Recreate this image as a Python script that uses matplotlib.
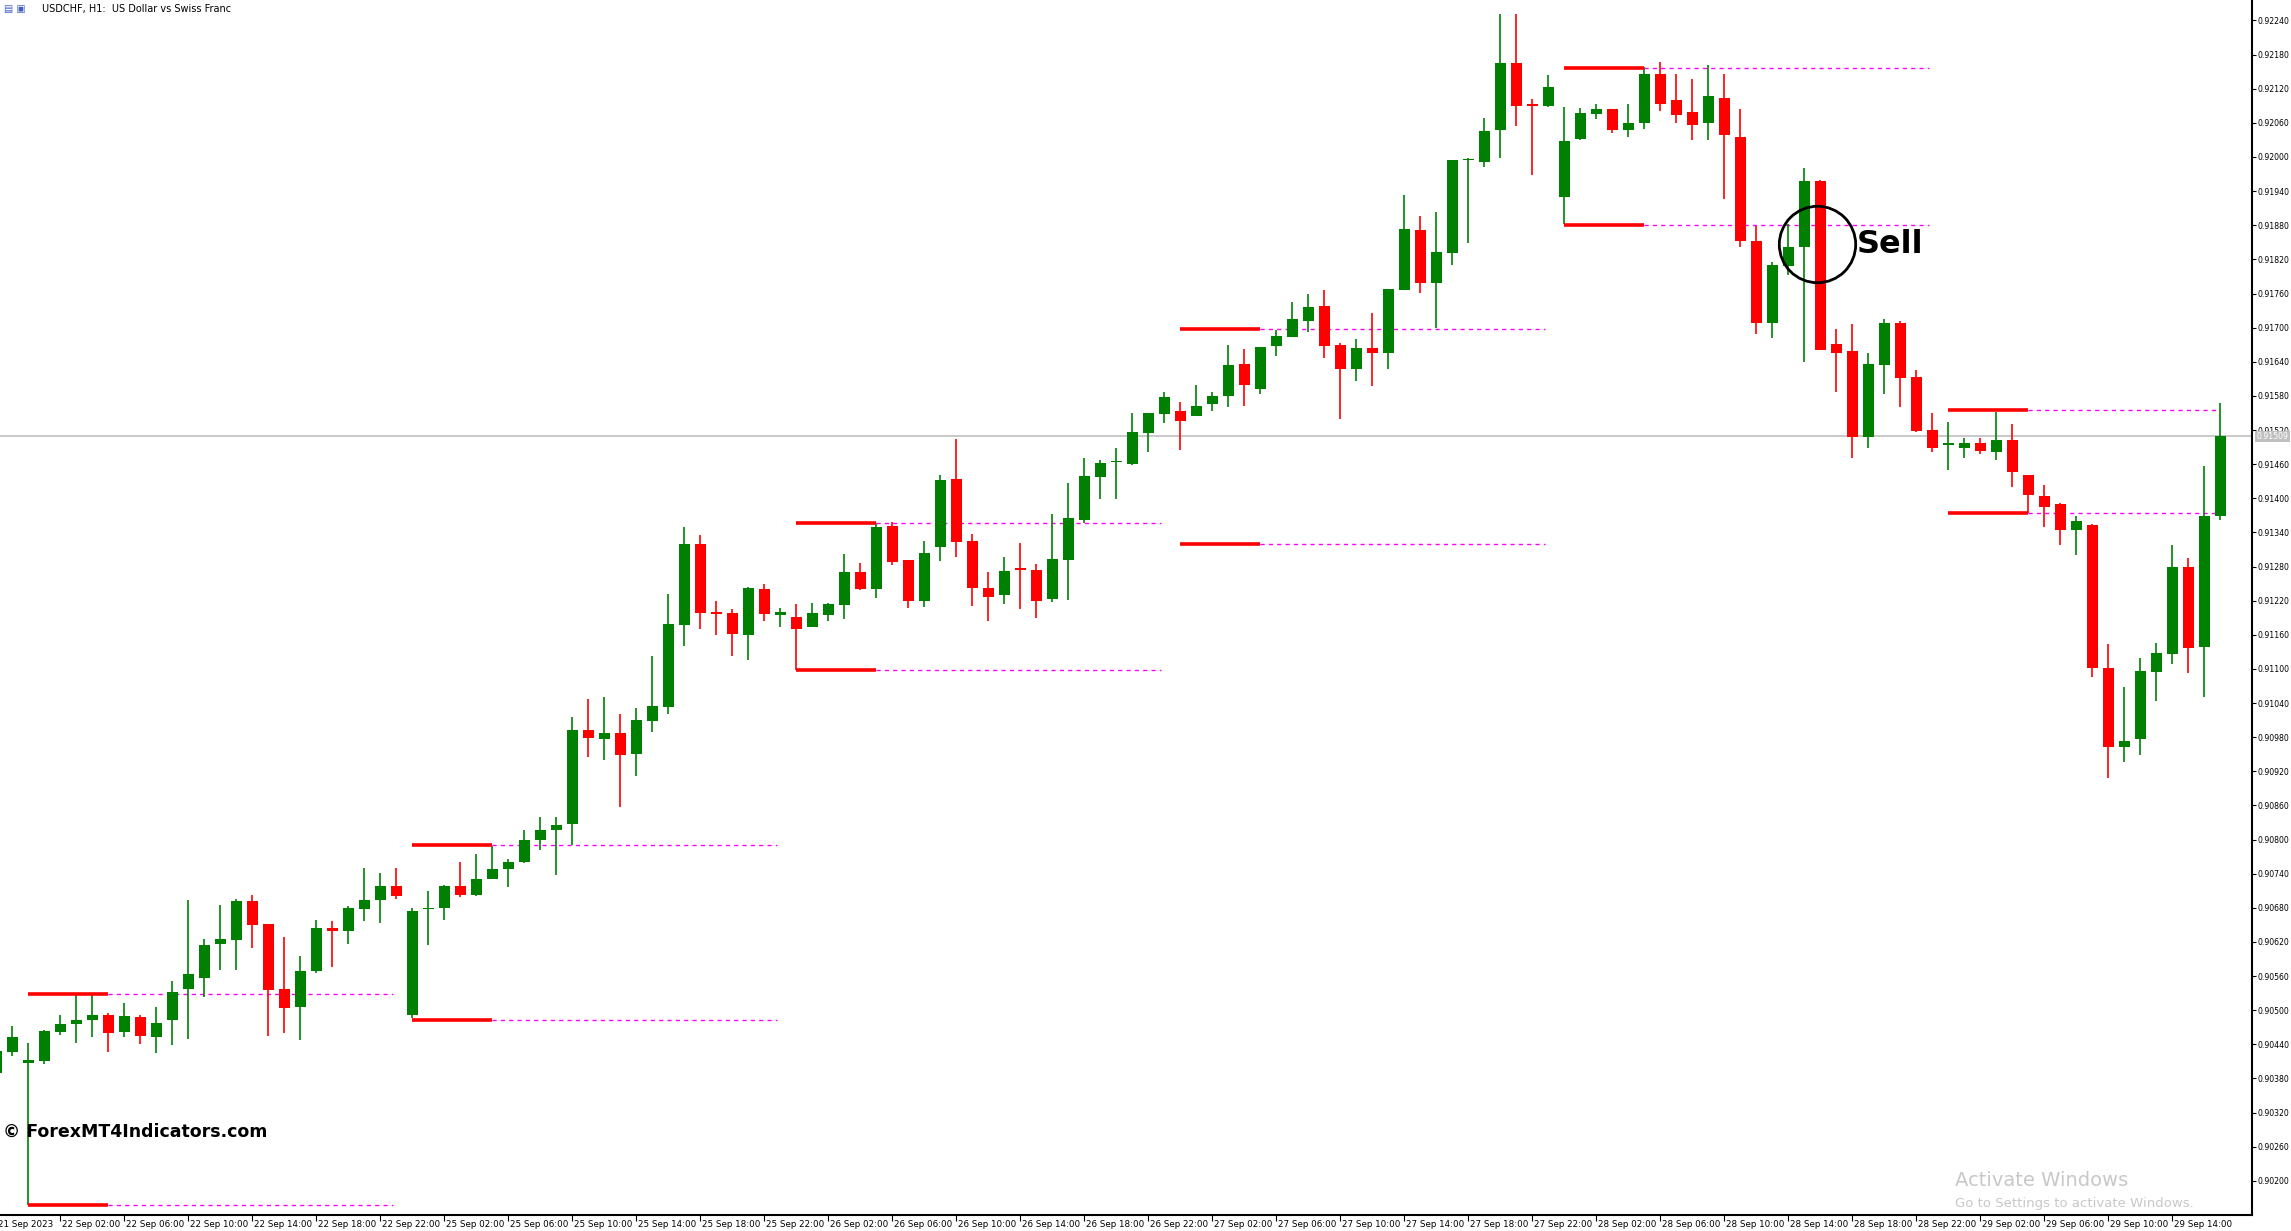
import matplotlib
matplotlib.use("Agg")
import matplotlib.pyplot as plt
import pandas as pd

# USDCHF H1 candles, k=0 is 21 Sep 22:00
opens = [0.90389, 0.90427, 0.90408, 0.90411, 0.90462, 0.90475, 0.90482, 0.90492, 0.90462, 0.90488,
         0.90453, 0.90483, 0.90538, 0.90557, 0.90617, 0.90624, 0.90692, 0.90651, 0.90537, 0.90506,
         0.90569, 0.90644, 0.90640, 0.90678, 0.90694, 0.90718, 0.90491, 0.90678, 0.90680, 0.90718,
         0.90702, 0.90730, 0.90748, 0.90760, 0.90799, 0.90816, 0.90827, 0.90992, 0.90977, 0.90987,
         0.90951, 0.91008, 0.91033, 0.91178, 0.91319, 0.91200, 0.91199, 0.91159, 0.91240, 0.91194,
         0.91191, 0.91174, 0.91195, 0.91212, 0.91270, 0.91241, 0.91351, 0.91292, 0.91219, 0.91314,
         0.91434, 0.91325, 0.91242, 0.91230, 0.91278, 0.91274, 0.91223, 0.91292, 0.91362, 0.91437,
         0.91463, 0.91460, 0.91515, 0.91548, 0.91553, 0.91545, 0.91565, 0.91580, 0.91636, 0.91593,
         0.91668, 0.91684, 0.91712, 0.91738, 0.91669, 0.91628, 0.91664, 0.91656, 0.91767, 0.91872,
         0.91779, 0.91832, 0.91994, 0.91992, 0.92048, 0.92165, 0.92093, 0.92090, 0.91929, 0.92032,
         0.92076, 0.92084, 0.92048, 0.92059, 0.92146, 0.92100, 0.92079, 0.92060, 0.92104, 0.92035,
         0.91852, 0.91709, 0.91809, 0.91841, 0.91958, 0.91671, 0.91659, 0.91507, 0.91635, 0.91709,
         0.91613, 0.91520, 0.91495, 0.91489, 0.91497, 0.91482, 0.91503, 0.91441, 0.91404, 0.91390,
         0.91345, 0.91353, 0.91102, 0.90962, 0.90976, 0.91095, 0.91127, 0.91279, 0.91139, 0.91368]
highs = [0.90436, 0.90472, 0.90442, 0.90465, 0.90492, 0.90527, 0.90527, 0.90496, 0.90512, 0.90492,
         0.90506, 0.90551, 0.90694, 0.90625, 0.90685, 0.90695, 0.90702, 0.90651, 0.90629, 0.90595,
         0.90659, 0.90657, 0.90683, 0.90750, 0.90741, 0.90750, 0.90679, 0.90709, 0.90721, 0.90760,
         0.90774, 0.90789, 0.90766, 0.90817, 0.90839, 0.90840, 0.91015, 0.91048, 0.91050, 0.91020,
         0.91032, 0.91123, 0.91232, 0.91350, 0.91335, 0.91220, 0.91205, 0.91244, 0.91249, 0.91207,
         0.91214, 0.91216, 0.91216, 0.91302, 0.91286, 0.91356, 0.91358, 0.91292, 0.91325, 0.91441,
         0.91504, 0.91337, 0.91270, 0.91297, 0.91321, 0.91285, 0.91372, 0.91427, 0.91471, 0.91467,
         0.91488, 0.91550, 0.91550, 0.91587, 0.91569, 0.91599, 0.91587, 0.91669, 0.91662, 0.91666,
         0.91696, 0.91745, 0.91759, 0.91766, 0.91673, 0.91680, 0.91726, 0.91768, 0.91933, 0.91896,
         0.91903, 0.91995, 0.91998, 0.92069, 0.92251, 0.92251, 0.92102, 0.92144, 0.92088, 0.92086,
         0.92093, 0.92084, 0.92093, 0.92158, 0.92167, 0.92146, 0.92137, 0.92162, 0.92146, 0.92084,
         0.91879, 0.91815, 0.91882, 0.91981, 0.91960, 0.91698, 0.91707, 0.91655, 0.91716, 0.91711,
         0.91626, 0.91550, 0.91534, 0.91506, 0.91506, 0.91552, 0.91531, 0.91441, 0.91423, 0.91392,
         0.91369, 0.91355, 0.91144, 0.91069, 0.91119, 0.91146, 0.91318, 0.91295, 0.91457, 0.91568]
lows = [0.90383, 0.90420, 0.90157, 0.90406, 0.90456, 0.90443, 0.90453, 0.90427, 0.90453, 0.90441,
        0.90425, 0.90439, 0.90450, 0.90523, 0.90571, 0.90571, 0.90610, 0.90455, 0.90460, 0.90448,
        0.90566, 0.90576, 0.90617, 0.90657, 0.90653, 0.90696, 0.90486, 0.90615, 0.90659, 0.90699,
        0.90701, 0.90730, 0.90716, 0.90758, 0.90781, 0.90737, 0.90790, 0.90946, 0.90940, 0.90857,
        0.90911, 0.90989, 0.91021, 0.91140, 0.91171, 0.91159, 0.91122, 0.91115, 0.91185, 0.91174,
        0.91098, 0.91174, 0.91185, 0.91188, 0.91239, 0.91225, 0.91283, 0.91207, 0.91209, 0.91290,
        0.91297, 0.91211, 0.91184, 0.91214, 0.91205, 0.91190, 0.91218, 0.91221, 0.91357, 0.91399,
        0.91399, 0.91459, 0.91481, 0.91532, 0.91485, 0.91545, 0.91554, 0.91561, 0.91563, 0.91584,
        0.91651, 0.91684, 0.91693, 0.91647, 0.91540, 0.91607, 0.91598, 0.91628, 0.91767, 0.91761,
        0.91700, 0.91811, 0.91848, 0.91983, 0.91999, 0.92055, 0.91969, 0.92088, 0.91882, 0.92030,
        0.92066, 0.92043, 0.92036, 0.92050, 0.92081, 0.92059, 0.92029, 0.92029, 0.91927, 0.91841,
        0.91688, 0.91682, 0.91793, 0.91640, 0.91661, 0.91586, 0.91470, 0.91489, 0.91584, 0.91561,
        0.91517, 0.91482, 0.91449, 0.91470, 0.91478, 0.91468, 0.91419, 0.91375, 0.91350, 0.91317,
        0.91301, 0.91086, 0.90909, 0.90937, 0.90948, 0.91043, 0.91109, 0.91093, 0.91051, 0.91361]
closes = [0.90428, 0.90453, 0.90412, 0.90463, 0.90476, 0.90483, 0.90492, 0.90460, 0.90490, 0.90455,
          0.90477, 0.90532, 0.90564, 0.90615, 0.90625, 0.90692, 0.90650, 0.90536, 0.90504, 0.90569,
          0.90644, 0.90640, 0.90680, 0.90694, 0.90718, 0.90701, 0.90675, 0.90680, 0.90718, 0.90702,
          0.90731, 0.90749, 0.90761, 0.90800, 0.90817, 0.90826, 0.90992, 0.90979, 0.90987, 0.90948,
          0.91010, 0.91034, 0.91179, 0.91319, 0.91199, 0.91197, 0.91161, 0.91242, 0.91196, 0.91200,
          0.91171, 0.91198, 0.91214, 0.91270, 0.91241, 0.91350, 0.91288, 0.91219, 0.91304, 0.91432,
          0.91323, 0.91242, 0.91227, 0.91272, 0.91274, 0.91219, 0.91293, 0.91365, 0.91439, 0.91462,
          0.91466, 0.91517, 0.91550, 0.91578, 0.91535, 0.91562, 0.91580, 0.91634, 0.91600, 0.91666,
          0.91685, 0.91715, 0.91736, 0.91668, 0.91628, 0.91664, 0.91656, 0.91768, 0.91873, 0.91779,
          0.91833, 0.91995, 0.91997, 0.92046, 0.92165, 0.92090, 0.92090, 0.92123, 0.92028, 0.92077,
          0.92084, 0.92048, 0.92060, 0.92146, 0.92094, 0.92074, 0.92057, 0.92107, 0.92039, 0.91853,
          0.91709, 0.91810, 0.91842, 0.91958, 0.91661, 0.91656, 0.91508, 0.91636, 0.91709, 0.91612,
          0.91519, 0.91489, 0.91497, 0.91497, 0.91484, 0.91503, 0.91447, 0.91405, 0.91385, 0.91345,
          0.91360, 0.91101, 0.90963, 0.90973, 0.91096, 0.91128, 0.91279, 0.91137, 0.91369, 0.91510]

# previous-day high / low levels, drawn from the first candle of each day
level_start = [2, 26, 50, 74, 98, 122]
level_high = [0.90528, 0.90790, 0.91356, 0.91697, 0.92157, 0.91555]
level_low = [0.90157, 0.90483, 0.91098, 0.91320, 0.91881, 0.91375]

current_price = 0.91509
price_ticks = [round(0.90200 + 0.0006 * i, 5) for i in range(35)]

n = len(opens)
times = list(pd.date_range("2023-09-21 22:00", "2023-09-22 23:00", freq="h")) + \
    list(pd.date_range("2023-09-25 00:00", periods=n - 26, freq="h"))

GREEN = "#008000"
RED = "#ff0000"

fig = plt.figure(figsize=(22.91, 12.31), dpi=100)
ax = fig.add_axes([0, 16 / 1231, 2252 / 2291, 1215 / 1231])
ax.set_xlim(0.231, 140.98)
ax.set_ylim(0.90140, 0.92276)

ax.axhline(current_price, color="#c0c0c0", lw=1.2, zorder=1)

for k in range(n):
    o, h, l, c = opens[k], highs[k], lows[k], closes[k]
    col = GREEN if c >= o else RED
    ax.vlines(k, l, h, color=col, lw=1.2, zorder=3)
    lo, hi = min(o, c), max(o, c)
    if hi - lo < 0.00003:
        mid = (hi + lo) / 2
        lo, hi = mid - 0.000015, mid + 0.000015
    ax.bar(k, hi - lo, bottom=lo, width=0.68, color=col, edgecolor="none", zorder=4)

for s, hi, lo in zip(level_start, level_high, level_low):
    end = min(s + 22.8, n - 1.2)
    for lvl in (hi, lo):
        ax.plot([s, s + 5], [lvl, lvl], color=RED, lw=2.6, solid_capstyle="butt", zorder=5)
        ax.plot([s + 5, end], [lvl, lvl], color="#ff00ff", lw=1, dashes=(3, 3), zorder=2)

# sell signal
ax.plot([113.8], [0.91847], marker="o", ms=55, mfc="none", mec="black", mew=2, zorder=6)
ax.text(116.3, 0.91847, "Sell", fontsize=23, fontweight="bold", va="center", ha="left", zorder=6)

# axes styling
for side in ("top", "left"):
    ax.spines[side].set_visible(False)
ax.spines["right"].set_linewidth(1.5)
ax.spines["bottom"].set_linewidth(1.5)
ax.yaxis.tick_right()
ax.set_yticks(price_ticks)
ax.set_yticklabels([f"{p:.5f}" for p in price_ticks], fontsize=5.6)
ax.tick_params(axis="y", direction="out", length=3, pad=1)

xt = list(range(4, n, 4))
ax.set_xticks(xt)
ax.set_xticklabels([])
ax.tick_params(axis="x", direction="out", length=4)
for k in [0] + xt:
    lab = "21 Sep 2023" if k == 0 else times[k].strftime("%d Sep %H:%M")
    ax.text(k + 0.08, -0.004, lab, transform=ax.get_xaxis_transform(), fontsize=6.3,
            ha="left", va="top", clip_on=False)

# price label box
ax.text(1.002, current_price, f"{current_price:.5f}", transform=ax.get_yaxis_transform(),
        fontsize=5.6, color="white", va="center", ha="left",
        bbox=dict(boxstyle="square,pad=0.15", fc="#c0c0c0", ec="none"), clip_on=False, zorder=7)

fig.text(42 / 2291, 1 - 9 / 1231, "USDCHF, H1:  US Dollar vs Swiss Franc", fontsize=7, va="center")
fig.text(4 / 2291, 1 - 9 / 1231, "\u25a4 \u25a3", fontsize=7, va="center", color="#4060c0")
fig.text(3 / 2291, 1 - 1132 / 1231, "\u00a9 ForexMT4Indicators.com", fontsize=12.5,
         fontweight="bold", va="center")
fig.text(1955 / 2291, 1 - 1181 / 1231, "Activate Windows", fontsize=14, color="#c8c8c8", va="center")
fig.text(1955 / 2291, 1 - 1203 / 1231, "Go to Settings to activate Windows.", fontsize=9.5,
         color="#c8c8c8", va="center")

fig.savefig("out.png", dpi=100)
